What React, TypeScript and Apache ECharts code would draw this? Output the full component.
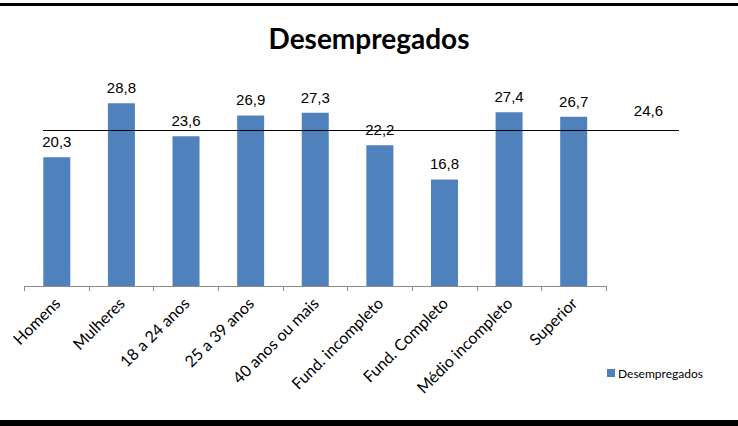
import React, { useEffect, useRef } from "react";
import * as echarts from "echarts";

const categories = [
  "Homens",
  "Mulheres",
  "18 a 24 anos",
  "25 a 39 anos",
  "40 anos ou mais",
  "Fund. incompleto",
  "Fund. Completo",
  "Médio incompleto",
  "Superior",
];
const values = [20.3, 28.8, 23.6, 26.9, 27.3, 22.2, 16.8, 27.4, 26.7];
const averageValue = 24.6;
const seriesName = "Desempregados";
const titleText = "Desempregados";

const fmt = (v: number) => v.toFixed(1).replace(".", ",");

export default function App() {
  const ref = useRef<HTMLDivElement>(null);
  useEffect(() => {
    document.body.style.margin = "0";
    const chart = echarts.init(ref.current!, undefined, { renderer: "svg" });
    chart.setOption({
      animation: false,
      backgroundColor: "#ffffff",
      title: {
        text: titleText,
        left: "center",
        top: 19,
        textStyle: {
          fontFamily: "Lato",
          fontWeight: "bold",
          fontSize: 28,
          color: "#000",
        },
      },
      legend: {
        data: [seriesName],
        left: 602,
        top: 362,
        itemWidth: 8,
        itemHeight: 8,
        icon: "rect",
        itemGap: 4,
        textStyle: { fontFamily: "Lato", fontSize: 12, color: "#000", padding: [0, 0, 0, -2] },
      },
      grid: { left: 24.5, width: 581.5, top: 64, bottom: 140 },
      xAxis: {
        type: "category",
        data: categories,
        axisLine: { lineStyle: { color: "#8c8c8c", width: 1 } },
        axisTick: { show: true, length: 5, alignWithLabel: false, lineStyle: { color: "#8c8c8c" } },
        axisLabel: {
          rotate: 45,
          interval: 0,
          fontFamily: "Lato",
          fontSize: 16,
          color: "#000",
          margin: 14,
        },
      },
      yAxis: {
        type: "value",
        min: 0,
        max: 35,
        show: false,
        splitLine: { show: false },
      },
      graphic: [
        { type: "rect", shape: { x: 0, y: 3, width: 738, height: 3 }, style: { fill: "#000" } },
        { type: "rect", shape: { x: 0, y: 420, width: 738, height: 6 }, style: { fill: "#000" } },
      ],
      series: [
        {
          name: seriesName,
          type: "bar",
          data: values,
          barWidth: 27,
          itemStyle: { color: "#4F81BD" },
          label: {
            show: true,
            position: "top",
            distance: 8,
            formatter: (p: any) => fmt(p.value),
            fontFamily: "Liberation Sans",
            fontSize: 15,
            color: "#000",
          },
          markLine: {
            silent: true,
            symbol: "none",
            lineStyle: { color: "#000", width: 1, type: "solid" },
            label: {
              show: true,
              position: "insideEndTop",
              formatter: () => fmt(averageValue),
              fontFamily: "Liberation Sans",
              fontSize: 15,
              color: "#000",
              distance: [16, 12],
            },
            data: [[{ x: 43, yAxis: averageValue }, { x: 679, yAxis: averageValue }]],
          },
        },
      ],
    });
    return () => chart.dispose();
  }, []);
  return (
    <div
      ref={ref}
      style={{ position: "fixed", left: 0, top: 0, width: 738, height: 426 }}
    />
  );
}
